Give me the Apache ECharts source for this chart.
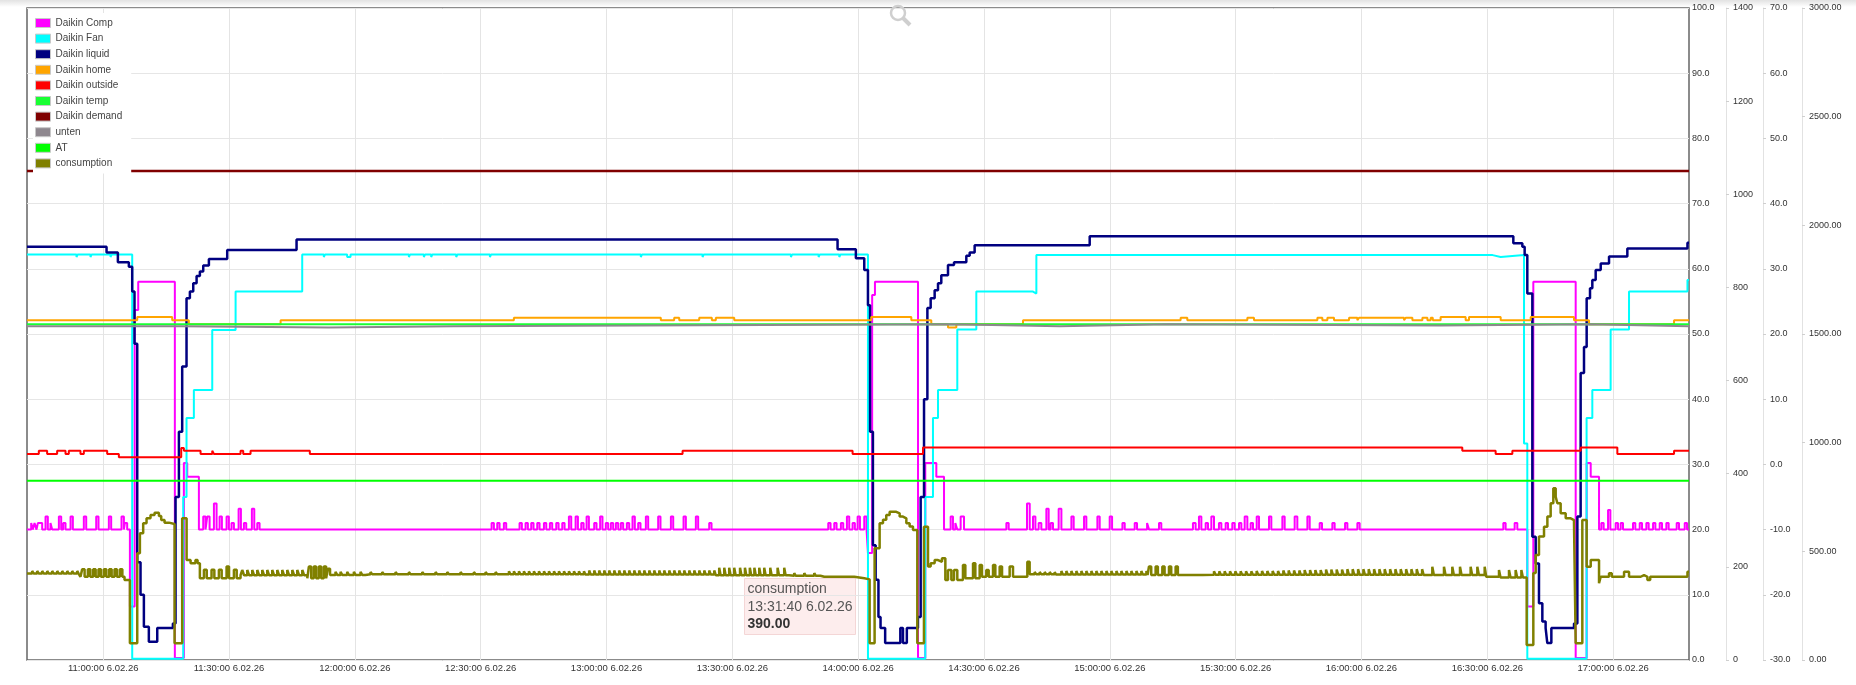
<!DOCTYPE html>
<html><head><meta charset="utf-8">
<script src="https://cdn.jsdelivr.net/npm/echarts@6/dist/echarts.min.js"></script>
<style>html,body{margin:0;padding:0;background:#fff}#c{width:1856px;height:685px}</style>
</head><body><div id="c"></div>
<script>
const X_MIN = '10:41:50', X_MAX = '17:18:05';
const xTicks = ['11:00:00','11:30:00','12:00:00','12:30:00','13:00:00','13:30:00','14:00:00','14:30:00','15:00:00','15:30:00','16:00:00','16:30:00','17:00:00'];
const seriesNames = ['Daikin Comp','Daikin Fan','Daikin liquid','Daikin home','Daikin outside','Daikin temp','Daikin demand','unten','AT','consumption'];
const seriesColors = ['#ff00ff','#00ffff','#000080','#ffa500','#ff0000','#19ff33','#800000','#8e878e','#00ff00','#808000'];

const comp = [
['10:41:50',20],['10:42:50',21],['10:43:14',20],['10:43:38',21],['10:44:06',20],['10:44:25',21],['10:45:27',20],
['10:46:15',22],['10:46:48',20],['10:47:26',21],['10:47:50',20],['10:49:26',22],['10:49:59',20],['10:50:28',21],['10:51:01',20],
['10:52:13',22],['10:52:46',20],['10:55:23',22],['10:55:57',20],['10:58:20',22],['10:58:53',20],['11:01:21',22],['11:01:54',20],
['11:04:22',22],['11:04:56',20],['11:05:10',21],['11:05:43',20],
['11:06:22',8.2],['11:07:30',53.7],['11:08:21',58],['11:17:05',0.3],['11:19:14',30.2],['11:20:02',28.1],['11:22:49',20],
['11:23:51',22],['11:24:24',20],['11:24:48',22],['11:25:22',20],['11:26:24',24],['11:27:02',20],['11:27:45',22],['11:28:18',20],
['11:29:25',22],['11:29:58',20],['11:30:36',21],['11:31:10',20],['11:32:17',23.2],['11:32:50',20],['11:33:33',21],['11:34:06',20],
['11:35:27',23.2],['11:36:01',20],['11:36:44',21],['11:37:17',20],
['12:32:36',21],['12:33:09',20],['12:33:57',21],['12:34:30',20],['12:35:32',21],['12:36:05',20],['12:39:16',21],['12:39:49',20],
['12:40:42',21],['12:41:15',20],['12:42:03',21],['12:42:36',20],['12:43:29',21],['12:44:02',20],['12:45:05',21],['12:45:38',20],
['12:46:30',21],['12:47:03',20],['12:48:01',21],['12:48:34',20],['12:49:27',21],['12:50:00',20],['12:51:02',22],['12:51:35',20],
['12:52:38',22],['12:53:11',20],['12:53:59',21],['12:54:32',20],['12:55:15',22],['12:55:48',20],['12:57:04',21],['12:57:37',20],
['12:58:29',22],['12:59:02',20],['12:59:50',21],['13:00:23',20],['13:01:02',21],['13:01:35',20],['13:02:14',21],['13:02:47',20],
['13:03:25',21],['13:03:58',20],['13:04:51',21],['13:05:24',20],['13:06:12',22],['13:06:45',20],['13:07:33',21],['13:08:06',20],
['13:09:23',22],['13:09:56',20],['13:12:19',22],['13:12:52',20],['13:15:21',22],['13:15:54',20],['13:18:22',22],['13:18:55',20],
['13:21:18',22],['13:21:51',20],['13:24:29',21],['13:25:02',20],
['13:52:52',21],['13:53:25',20],['13:54:18',21],['13:54:51',20],['13:55:53',21],['13:56:26',20],['13:57:19',22],['13:57:52',20],
['13:58:40',21],['13:59:13',20],['13:59:52',22],['14:00:25',20],['14:01:27',22],['14:02:00',20],
['14:02:20',16.4],['14:03:20',56],['14:04:00',58],['14:14:16',0.3],['14:16:00',30.2],['14:18:38',28.1],['14:20:28',20],
['14:22:03',22],['14:22:36',20],['14:23:10',21],['14:23:38',20],['14:24:26',22],['14:25:14',20],['14:35:20',21],['14:35:53',20],
['14:40:15',24],['14:40:54',20],['14:41:41',22],['14:42:15',20],['14:43:02',21],['14:43:40',20],['14:44:52',23.2],['14:45:25',20],
['14:45:54',21],['14:46:27',20],['14:47:48',23.2],['14:48:27',20],['14:50:50',22],['14:51:23',20],['14:53:51',22],['14:54:24',20],
['14:57:02',22],['14:57:35',20],['14:59:58',22],['15:00:32',20],['15:03:00',21],['15:03:33',20],['15:05:56',21],['15:06:29',20],
['15:08:53',21],['15:09:21',20],['15:11:43',21],['15:12:16',20],['15:19:49',21],['15:20:27',20],['15:21:15',22],['15:21:49',20],
['15:22:51',21],['15:23:24',20],['15:24:12',22],['15:24:50',20],['15:26:01',21],['15:26:35',20],['15:27:37',21],['15:28:10',20],
['15:29:12',21],['15:29:46',20],['15:30:48',21],['15:31:21',20],['15:32:09',22],['15:32:47',20],['15:33:35',21],['15:34:08',20],
['15:35:01',22],['15:35:34',20],['15:37:57',22],['15:38:30',20],['15:41:08',22],['15:41:41',20],['15:44:04',22],['15:44:42',20],
['15:47:06',22],['15:47:39',20],['15:50:02',21],['15:50:35',20],['15:53:03',21],['15:53:36',20],['15:56:05',21],['15:56:38',20],
['15:59:01',21],['15:59:34',20],['16:33:49',21],['16:34:22',20],['16:36:31',21],['16:37:09',20],
['16:39:32',8.2],['16:40:58',58],['16:51:04',0.3],['16:53:41',30.2],['16:54:39',28.1],['16:56:38',20],
['16:57:11',21],['16:57:44',20],['16:58:47',23],['16:59:20',20],['17:00:36',21],['17:01:09',20],['17:01:48',21],['17:02:21',20],
['17:04:44',21],['17:05:17',20],['17:06:20',21],['17:06:53',20],['17:07:55',21],['17:08:28',20],['17:09:31',21],['17:10:04',20],
['17:11:06',21],['17:11:39',20],['17:12:41',21],['17:13:14',20],['17:15:09',21],['17:15:42',20],['17:17:04',21],['17:17:37',20],
['17:18:05',20]];

const fan = [
['10:41:50',62.2],['10:53:38',61.8],['10:53:55',62.2],['10:56:58',61.8],['10:57:15',62.2],['11:01:45',61.8],['11:02:02',62.2],
['11:06:55',0.2],['11:19:05',25],['11:19:52',37.1],['11:21:37',41.4],['11:26:00',50.6],['11:31:34',56.5],['11:47:27',62.2],
['11:52:36',61.8],['11:52:53',62.2],['11:58:10',61.8],['11:58:58',62.2],['12:12:53',61.8],['12:13:10',62.2],['12:16:27',61.8],['12:16:44',62.2],
['12:18:12',61.8],['12:18:29',62.2],['12:24:10',61.8],['12:24:27',62.2],['12:32:12',61.8],['12:32:29',62.2],['13:08:11',61.8],['13:08:28',62.2],
['13:22:54',61.8],['13:23:11',62.2],['13:43:58',61.8],['13:44:15',62.2],['13:50:34',61.8],['13:50:51',62.2],['13:55:30',61.8],['13:55:47',62.2],
['14:02:20',0.2],['14:16:00',25],['14:17:50',37.1],['14:19:02',41.4],['14:23:38',50.7],['14:28:10',56.5],['14:41:41',56.2],['14:42:29',62.1],
['14:44:52',61.8],['14:45:09',62.1],['14:51:14',61.8],['14:51:31',62.1],['14:54:49',61.8],['14:55:06',62.1],['14:57:35',61.8],['14:57:52',62.1],
['15:00:22',61.8],['15:00:39',62.1],['15:12:31',61.8],['15:12:48',62.1],['15:16:53',61.8],['15:17:10',62.1],['15:19:16',61.8],['15:19:33',62.1],
['15:24:50',61.8],['15:25:07',62.1],['15:32:47',61.8],['15:33:04',62.1],['15:46:56',61.8],['15:47:13',62.1],['16:03:38',61.8],['16:03:55',62.1],
['16:05:13',61.8],['16:05:30',62.1],['16:12:08',61.8],['16:12:25',62.1],['16:12:56',61.8],['16:13:13',62.1],['16:31:16',61.8],['16:33:11',62.1],
['16:38:45',33.2],['16:39:32',0.2],['16:53:40',37.1],['16:55:02',41.4],['16:59:24',50.7],['17:03:47',56.5],['17:07:24',56.2],['17:07:41',56.5],
['17:17:43',58.3],['17:18:05',58.3]];

const liquid = [
['10:41:50',63.4],['11:00:48',62.5],['11:03:30',61.0],['11:06:07',60.3],['11:06:55',56.5],['11:07:28',48.5],['11:08:07',15],['11:08:54',10.0],
['11:09:42',5.1],['11:10:53',2.8],['11:12:53',4.9],['11:16:37',5.6],['11:17:15',25],['11:18:03',35],['11:18:50',45],['11:19:52',55.5],
['11:20:40',56.5],['11:21:28',57.8],['11:22:16',58.9],['11:23:03',59.6],['11:23:51',60.5],['11:25:12',61.5],['11:29:34',62.9],['11:46:06',64.5],
['13:55:05',63.0],['13:59:27',61.6],['14:01:27',59.8],['14:02:20',54.4],['14:02:50',35],['14:03:31',17.6],['14:04:10',12.3],['14:04:50',6.6],
['14:05:20',4.9],['14:06:26',2.6],['14:10:03',4.9],['14:10:41',2.6],['14:11:36',4.9],['14:14:15',6.6],['14:14:54',25],['14:15:42',40],
['14:16:30',54],['14:17:17',55.5],['14:18:14',56.7],['14:19:02',57.8],['14:19:49',59.0],['14:21:25',60.6],['14:22:51',61.0],['14:25:47',62.0],
['14:26:35',62.5],['14:27:46',63.6],['14:55:12',65.0],['16:36:12',63.9],['16:38:21',63.4],['16:38:54',62.1],['16:39:32',56.2],['16:40:44',18.9],
['16:41:32',14.8],['16:42:19',8.7],['16:43:07',5.9],['16:43:54',4.9],['16:44:18',2.6],['16:45:16',4.9],['16:50:40',5.6],['16:51:28',22],
['16:52:15',44],['16:53:03',48],['16:53:41',55.5],['16:54:29',57.0],['16:55:02',58.3],['16:55:50',59.8],['16:57:02',60.8],['16:59:01',61.9],
['17:03:23',63.1],['17:17:43',64.0],['17:18:05',64.0]];

const home = [
['10:41:50',52.1],['11:08:07',52.6],['11:16:27',52.1],['11:20:25',51.5],['11:42:18',52.1],['12:37:55',52.5],
['13:12:57',52.1],['13:16:08',52.5],['13:17:20',52.1],['13:22:06',52.5],['13:25:07',52.1],['13:26:04',52.5],['13:30:27',52.1],
['14:03:07',52.6],['14:12:40',52.1],['14:17:26',51.5],['14:21:25',51.0],['14:23:24',51.5],['14:39:18',52.1],
['15:16:53',52.5],['15:18:28',52.1],['15:32:47',52.5],['15:34:22',52.1],['15:49:29',52.5],['15:50:40',52.1],['15:51:52',52.5],['15:53:27',52.1],
['15:57:02',52.5],['15:59:01',52.1],['15:59:25',52.5],['16:10:09',52.1],['16:10:33',52.5],['16:12:08',52.1],['16:14:31',52.5],['16:15:43',52.1],
['16:16:30',52.5],['16:17:00',52.1],['16:18:52',52.6],['16:24:50',52.1],['16:25:38',52.6],['16:33:11',52.1],['16:40:20',52.6],['16:50:40',52.1],
['16:54:15',51.5],['17:14:31',52.1],['17:18:05',52.1]];

const outside = [
['10:41:50',31.6],['10:44:39',32.1],['10:46:38',31.6],['10:49:01',32.1],['10:51:01',31.6],['10:51:48',32.1],['10:54:35',31.6],['10:55:23',32.1],
['11:00:57',31.6],['11:03:44',31.1],['11:18:36',32.5],['11:19:14',32.1],['11:23:13',31.6],['11:26:00',32.1],['11:26:24',31.6],['11:32:45',32.1],
['11:33:23',31.6],['11:35:08',32.1],['11:49:16',31.6],['13:18:08',32.1],['13:58:40',31.6],['14:15:27',32.6],['16:24:02',32.1],['16:31:59',31.6],
['16:35:58',32.1],['16:52:16',32.6],['17:01:00',31.6],['17:14:31',32.1],['17:18:05',32.1]];

const temp = [['10:41:50',51.5],['17:18:05',51.5]];
const demand = [['10:41:50',75],['17:18:05',75]];
const unten = [
['10:41:50',51.2],['11:18:30',51.0],['11:53:48',51.2],['12:23:36',51.5],['14:22:12',51.2],['14:48:03',51.5],['15:13:42',51.3],
['16:18:52',51.5],['16:54:39',51.2],['17:18:05',51.2]];
const at = [['10:41:50',27.5],['17:18:05',27.5]];

const consumption = [
['10:41:50',398],['10:43:04',410],['10:43:24',398],['10:44:16',410],['10:44:36',398],['10:45:27',410],['10:45:47',398],['10:46:39',410],['10:46:59',398],
['10:47:50',410],['10:48:10',398],['10:49:02',410],['10:49:22',398],['10:50:13',410],['10:50:33',398],['10:51:25',410],['10:51:45',398],
['10:52:36',410],['10:52:56',398],['10:53:48',410],['10:54:08',398],
['10:54:35',383],['10:54:59',417],['10:55:34',383],['10:56:21',417],['10:56:56',383],['10:57:37',417],['10:58:12',383],['10:58:53',417],['10:59:28',383],
['11:00:10',417],['11:00:45',383],['11:01:26',417],['11:02:01',383],['11:02:42',417],['11:03:17',383],['11:03:59',417],['11:04:34',383],['11:05:05',368],
['11:06:22',77],['11:08:07',491],['11:08:45',583],['11:09:32',629],['11:10:20',652],['11:11:17',667],['11:12:15',678],['11:13:17',663],['11:13:50',644],
['11:14:38',632],['11:15:40',626],['11:17:01',77],['11:18:50',652],['11:19:53',460],['11:20:50',445],['11:22:00',460],['11:22:30',445],['11:23:03',376],
['11:24:01',415],['11:24:41',376],['11:25:50',415],['11:26:30',376],['11:27:35',415],['11:28:15',376],['11:29:25',430],['11:30:00',376],['11:31:10',415],['11:31:50',376],
['11:32:45',390],['11:33:09',414],['11:33:35',390],['11:34:21',414],['11:34:47',390],['11:35:32',414],['11:35:58',390],['11:36:44',414],['11:37:10',390],
['11:37:55',414],['11:38:21',390],['11:39:07',414],['11:39:33',390],['11:40:18',414],['11:40:44',390],['11:41:30',414],['11:41:56',390],['11:42:41',414],['11:43:07',390],
['11:43:53',414],['11:44:19',390],['11:45:05',414],['11:45:31',390],['11:46:16',414],['11:46:42',390],['11:47:28',414],['11:47:54',390],
['11:48:40',376],['11:49:02',430],['11:49:35',376],['11:50:13',430],['11:50:46',376],['11:51:25',430],['11:51:58',376],['11:52:36',430],['11:53:09',376],['11:53:34',420],['11:54:05',391],
['11:55:23',406],['11:55:50',391],['11:56:35',406],['11:57:02',391],['11:58:10',406],['11:58:37',391],['11:59:46',406],['12:00:13',391],['12:01:21',406],['12:01:48',391],
['12:02:30',395],['12:03:44',405],['12:04:08',395],['12:06:31',405],['12:06:55',395],['12:09:42',405],['12:10:06',395],['12:12:53',405],['12:13:17',395],
['12:16:04',405],['12:16:28',395],['12:19:14',405],['12:19:38',395],['12:22:01',405],['12:22:25',395],['12:25:12',405],['12:25:36',395],['12:28:23',405],['12:28:47',395],
['12:31:10',405],['12:31:34',395],['12:33:33',405],['12:33:57',395],
['12:36:44',408],['12:37:04',395],['12:37:55',408],['12:38:15',395],['12:39:07',408],['12:39:27',395],['12:40:18',408],['12:40:38',395],['12:41:30',408],['12:41:50',395],
['12:42:41',408],['12:43:01',395],['12:43:53',408],['12:44:13',395],['12:45:05',408],['12:45:25',395],['12:46:16',408],['12:46:36',395],['12:47:28',408],['12:47:48',395],
['12:48:39',408],['12:48:59',395],['12:49:51',408],['12:50:11',395],['12:51:02',408],['12:51:22',395],['12:52:14',408],['12:52:34',395],['12:53:25',408],['12:53:45',395],
['12:54:37',408],['12:54:57',393],
['12:55:52',412],['12:56:14',393],['12:57:04',412],['12:57:26',393],['12:58:15',412],['12:58:37',393],['12:59:27',412],['12:59:49',393],['13:00:38',412],['13:01:00',393],
['13:01:50',412],['13:02:12',393],['13:03:01',412],['13:03:23',393],['13:04:13',412],['13:04:35',393],['13:05:24',412],['13:05:46',393],['13:06:36',412],['13:06:58',393],
['13:07:47',412],['13:08:09',393],['13:08:59',412],['13:09:21',393],['13:10:11',412],['13:10:33',393],['13:11:22',412],['13:11:44',393],['13:12:34',412],['13:12:56',393],
['13:13:45',412],['13:14:07',393],['13:14:57',412],['13:15:19',393],['13:16:08',412],['13:16:30',393],['13:17:20',412],['13:17:42',393],['13:18:31',412],['13:18:53',393],
['13:19:43',412],['13:20:05',393],['13:20:55',412],['13:21:17',393],['13:22:06',412],['13:22:28',393],['13:23:18',412],['13:23:40',393],['13:24:29',412],['13:24:51',393],
['13:25:41',412],['13:26:03',390],['13:26:52',425],['13:27:12',390],['13:28:04',425],['13:28:24',390],['13:29:15',425],['13:29:35',390],['13:30:27',425],['13:30:47',390],
['13:31:50',425],['13:32:10',390],['13:33:00',425],['13:33:20',390],['13:34:10',425],['13:34:30',390],['13:35:15',425],['13:35:35',390],['13:36:25',425],['13:36:45',390],
['13:37:36',425],['13:37:56',390],['13:39:02',425],['13:39:22',390],['13:40:47',425],['13:41:07',390],['13:42:22',425],['13:42:42',390],
['13:43:30',388],['13:44:45',400],['13:45:05',388],['13:47:09',400],['13:47:29',388],['13:49:32',400],['13:49:52',388],['13:51:00',383],['13:51:55',392],['13:52:15',383],
['13:55:53',392],['13:56:13',383],['13:59:04',376],['14:01:27',371],
['14:02:44',77],['14:03:55',514],['14:05:07',629],['14:05:55',645],['14:06:42',667],['14:07:30',682],['14:09:05',675],['14:09:53',660],['14:10:41',652],['14:11:29',629],
['14:12:16',614],['14:13:04',598],['14:14:06',77],['14:15:41',613],['14:16:39',430],['14:17:17',445],['14:18:14',460],['14:19:02',452],['14:19:59',468],['14:20:47',368],
['14:21:25',414],['14:22:13',368],['14:22:51',414],['14:23:38',368],['14:24:59',437],['14:25:33',376],['14:27:23',445],['14:27:56',376],['14:28:58',437],['14:29:31',383],
['14:30:33',414],['14:31:07',383],['14:32:09',437],['14:32:42',383],['14:33:44',430],['14:34:18',383],['14:36:07',430],['14:36:55',383],['14:40:20',452],['14:40:53',395],
['14:42:05',405],['14:42:25',395],['14:43:17',405],['14:43:37',395],['14:44:28',405],['14:44:48',395],['14:45:40',405],['14:46:00',395],['14:46:51',405],['14:47:11',393],
['14:48:27',410],['14:48:47',393],['14:49:38',410],['14:49:58',393],['14:50:50',410],['14:51:10',393],['14:52:01',410],['14:52:21',393],['14:53:13',410],['14:53:33',393],
['14:54:24',410],['14:54:44',393],['14:55:36',410],['14:55:56',393],['14:56:47',410],['14:57:07',393],['14:57:59',410],['14:58:19',393],['14:59:11',410],['14:59:31',393],
['15:00:22',410],['15:00:42',393],['15:01:34',410],['15:01:54',393],['15:02:45',410],['15:03:05',393],['15:03:57',410],['15:04:17',393],['15:05:08',410],['15:05:28',393],
['15:06:20',410],['15:06:40',393],['15:07:31',410],['15:07:51',393],['15:08:43',410],['15:09:00',391],
['15:09:20',430],['15:09:52',391],['15:10:55',430],['15:11:27',391],['15:12:31',430],['15:13:03',391],['15:14:06',430],['15:14:38',391],['15:15:41',430],['15:16:13',391],
['15:18:30',398],['15:18:50',391],['15:20:30',398],['15:20:50',391],['15:22:10',398],['15:22:30',392],
['15:24:50',408],['15:25:12',392],['15:26:06',408],['15:26:28',392],['15:27:22',408],['15:27:44',392],['15:28:39',408],['15:29:01',392],['15:29:55',408],['15:30:17',392],
['15:31:11',408],['15:31:33',392],['15:32:28',408],['15:32:50',392],['15:33:44',408],['15:34:06',392],['15:35:00',410],['15:35:22',392],['15:36:17',410],['15:36:39',392],
['15:37:33',410],['15:37:55',392],['15:38:49',410],['15:39:11',392],['15:40:06',410],['15:40:28',392],['15:41:22',412],['15:41:44',392],['15:42:38',412],['15:43:00',392],
['15:43:55',412],['15:44:17',392],['15:45:11',412],['15:45:33',392],['15:46:27',414],['15:46:49',392],['15:47:44',414],['15:48:06',392],['15:49:00',414],['15:49:22',392],
['15:50:16',414],['15:50:38',392],['15:51:33',416],['15:51:55',392],['15:52:49',416],['15:53:11',392],['15:54:05',416],['15:54:27',392],['15:55:22',416],['15:55:44',392],
['15:56:38',418],['15:57:00',392],['15:57:54',418],['15:58:16',392],['15:59:11',418],['15:59:33',392],['16:00:27',418],['16:00:49',392],['16:01:43',418],['16:02:05',392],
['16:03:00',418],['16:03:22',392],['16:04:16',418],['16:04:38',392],['16:05:32',418],['16:05:54',392],['16:06:49',418],['16:07:11',392],['16:08:05',418],['16:08:27',392],
['16:09:21',418],['16:09:43',392],['16:10:38',418],['16:11:00',392],['16:11:54',418],['16:12:16',392],['16:13:10',418],['16:13:32',392],['16:14:27',418],['16:14:49',391],
['16:16:53',429],['16:17:15',391],['16:19:40',429],['16:20:02',391],['16:21:39',429],['16:22:01',391],['16:23:29',429],['16:23:51',391],['16:26:01',429],['16:26:23',391],
['16:27:37',429],['16:27:59',391],['16:29:22',429],['16:29:44',383],['16:32:47',414],['16:33:09',380],['16:35:10',414],['16:35:32',380],['16:36:45',414],['16:37:07',380],
['16:38:07',414],['16:38:29',380],
['16:39:23',69],['16:40:58',400],['16:41:32',483],['16:42:19',568],['16:43:31',613],['16:44:19',660],['16:45:06',721],['16:45:44',790],['16:46:18',751],['16:46:42',721],
['16:47:29',675],['16:48:41',652],['16:49:53',644],['16:50:40',629],['16:51:04',77],['16:52:39',644],['16:53:41',429],['16:54:39',460],['16:56:38',353],['16:57:02',383],
['16:59:01',399],['16:59:40',383],['17:02:36',406],['17:03:47',383],['17:06:34',391],['17:07:22',383],['17:08:10',368],['17:08:50',383],['17:09:45',391],['17:10:10',383],
['17:11:20',391],['17:11:45',383],['17:12:56',391],['17:13:20',383],['17:14:31',391],['17:14:55',383],['17:16:07',391],['17:16:31',383],['17:17:43',406],['17:18:05',406]];

const tipLines = ['consumption', '13:31:40 6.02.26', '390.00'];

function T(s) { const p = s.split(':').map(Number); return new Date(2026, 1, 6, p[0], p[1], p[2]).getTime(); }
function pad(n) { return (n < 10 ? '0' : '') + n; }
function fmtTime(v) {
  const d = new Date(v);
  return pad(d.getHours()) + ':' + pad(d.getMinutes()) + ':' + pad(d.getSeconds()) + ' ' + d.getDate() + '.' + pad(d.getMonth() + 1) + '.' + String(d.getFullYear()).slice(2);
}
const FONT = 'Arial, "Liberation Sans", Helvetica, sans-serif';
const dataSets = [comp, fan, liquid, home, outside, temp, demand, unten, at, consumption];
const axisIndexOf = [0, 0, 0, 0, 0, 0, 0, 0, 0, 3];
const widths = [2, 2, 2.5, 2, 2, 2, 2.5, 2, 2, 2.5];
const tickVals = xTicks.map(T);

const chart = echarts.init(document.getElementById('c'), null, { renderer: 'canvas' });
const lbl = { fontSize: 9, color: '#333', fontFamily: FONT };
chart.setOption({
  animation: false,
  backgroundColor: '#fff',
  grid: { left: 27, right: 167, top: 8, bottom: 25, show: true, borderColor: '#666', borderWidth: 1.5 },
  legend: {
    orient: 'vertical', left: 33, top: 13, icon: 'rect', itemWidth: 15, itemHeight: 9, itemGap: 5.6,
    padding: [5, 9, 5, 2], backgroundColor: '#fff', selectedMode: false,
    itemStyle: { borderColor: '#c8c8c8', borderWidth: 1 },
    textStyle: { fontSize: 10, color: '#444', fontFamily: FONT },
    data: seriesNames
  },
  xAxis: {
    type: 'value', min: T(X_MIN), max: T(X_MAX), scale: true,
    axisLine: { show: false },
    axisTick: { show: false, customValues: tickVals },
    axisLabel: { customValues: tickVals, formatter: fmtTime, fontSize: 9.5, color: '#333', fontFamily: FONT, margin: 3, hideOverlap: false },
    splitLine: { show: true, lineStyle: { color: '#e4e4e4', width: 1 } }
  },
  yAxis: [
    { type: 'value', position: 'right', min: 0, max: 100, interval: 10,
      axisLine: { show: false }, axisTick: { show: false },
      axisLabel: Object.assign({ margin: 3, formatter: v => v.toFixed(1) }, lbl),
      splitLine: { show: true, lineStyle: { color: '#e6e6e6' } } },
    { type: 'value', position: 'right', offset: 37, min: 0, max: 1400, interval: 200,
      axisLine: { show: true, lineStyle: { color: '#e2e2e2' } }, axisTick: { show: true, length: 3, lineStyle: { color: '#cfcfcf' } },
      axisLabel: Object.assign({ margin: 7, formatter: v => String(v) }, lbl), splitLine: { show: false } },
    { type: 'value', position: 'right', offset: 74, min: -30, max: 70, interval: 10,
      axisLine: { show: true, lineStyle: { color: '#e2e2e2' } }, axisTick: { show: true, length: 3, lineStyle: { color: '#cfcfcf' } },
      axisLabel: Object.assign({ margin: 7, formatter: v => v.toFixed(1) }, lbl), splitLine: { show: false } },
    { type: 'value', position: 'right', offset: 113, min: 0, max: 3000, interval: 500,
      axisLine: { show: true, lineStyle: { color: '#e2e2e2' } }, axisTick: { show: true, length: 3, lineStyle: { color: '#cfcfcf' } },
      axisLabel: Object.assign({ margin: 7, formatter: v => v.toFixed(2) }, lbl), splitLine: { show: false } }
  ],
  series: seriesNames.map((name, i) => ({
    name, type: 'line', step: 'end', showSymbol: false, symbol: 'none',
    yAxisIndex: axisIndexOf[i], color: seriesColors[i],
    lineStyle: { width: widths[i], color: seriesColors[i] },
    data: dataSets[i].map(p => [T(p[0]), p[1]])
  })),
  graphic: [
    { type: 'rect', left: 0, top: 0, z: -1, shape: { width: 1856, height: 7 },
      style: { fill: new echarts.graphic.LinearGradient(0, 0, 0, 1, [{ offset: 0, color: '#e2e2e2' }, { offset: 1, color: '#ffffff' }]) } },
    { type: 'circle', shape: { cx: 898, cy: 13, r: 7 }, style: { fill: 'none', stroke: '#cfcfcf', lineWidth: 2.5 }, z: 100 },
    { type: 'line', shape: { x1: 903, y1: 18, x2: 910, y2: 25 }, style: { stroke: '#cfcfcf', lineWidth: 4 }, z: 100 },
    { type: 'group', left: 744, top: 578, z: 200, children: [
      { type: 'rect', shape: { x: 0, y: 0, width: 111, height: 56 }, style: { fill: 'rgba(253,236,236,0.92)', stroke: '#f4d6d6', lineWidth: 1 } },
      { type: 'text', style: { x: 3, y: 11, text: tipLines[0], font: '14px ' + FONT, fill: '#555', verticalAlign: 'middle' } },
      { type: 'text', style: { x: 3, y: 28.5, text: tipLines[1], font: '14px ' + FONT, fill: '#555', verticalAlign: 'middle' } },
      { type: 'text', style: { x: 3, y: 45.5, text: tipLines[2], font: 'bold 14px ' + FONT, fill: '#333', verticalAlign: 'middle' } }
    ] }
  ]
});
</script>
</body></html>
